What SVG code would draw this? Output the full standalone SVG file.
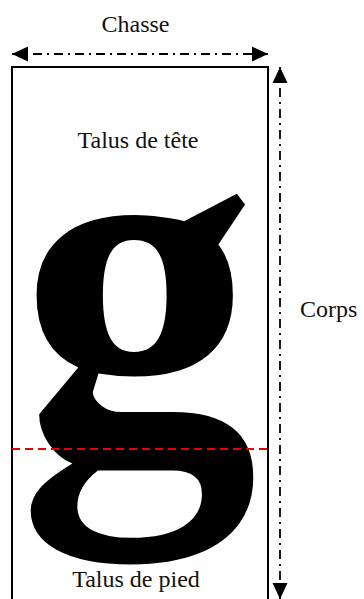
<svg xmlns="http://www.w3.org/2000/svg" width="364" height="599" viewBox="0 0 364 599">
<style>
.lbl{font-family:"Liberation Serif","Times New Roman",serif;font-size:24px;fill:#111}
.dim{stroke:#000;stroke-width:1.8;fill:none;stroke-dasharray:9 5 2 5}
.base{stroke:#e00;stroke-width:1.8;fill:none;stroke-dasharray:8 5}
</style>
<defs>
<marker id="ah" markerUnits="userSpaceOnUse" markerWidth="16" markerHeight="16" refX="16" refY="7.5" orient="auto-start-reverse" viewBox="0 0 16 15">
<path d="M0,0 L16,7.5 L0,15 z" fill="#000"/>
</marker>
</defs>
<rect width="364" height="599" fill="#fff"/>
<g id="body">
<rect x="12" y="67" width="256" height="560" fill="#fff" stroke="#000" stroke-width="2"/>
</g>
<g id="glyph">
<text transform="translate(138,453) scale(0.95,1)" x="0" y="0" text-anchor="middle" style="font-family:'Liberation Serif','Times New Roman',serif;font-weight:bold;font-size:505px" fill="#000">g</text>
</g>
<g id="connectors">
<line class="dim" x1="12" y1="54" x2="268" y2="54" marker-start="url(#ah)" marker-end="url(#ah)"/>
<line class="dim" x1="280" y1="67" x2="280" y2="599" marker-start="url(#ah)" marker-end="url(#ah)"/>
<line class="base" x1="12" y1="449" x2="268" y2="449"/>
</g>
<g id="label-chasse"><text class="lbl" x="135.5" y="32" text-anchor="middle">Chasse</text></g>
<g id="label-tete"><text class="lbl" x="138" y="148" text-anchor="middle">Talus de tête</text></g>
<g id="label-pied"><text class="lbl" x="136" y="587" text-anchor="middle">Talus de pied</text></g>
<g id="label-corps"><text class="lbl" x="300" y="317">Corps</text></g>
</svg>
